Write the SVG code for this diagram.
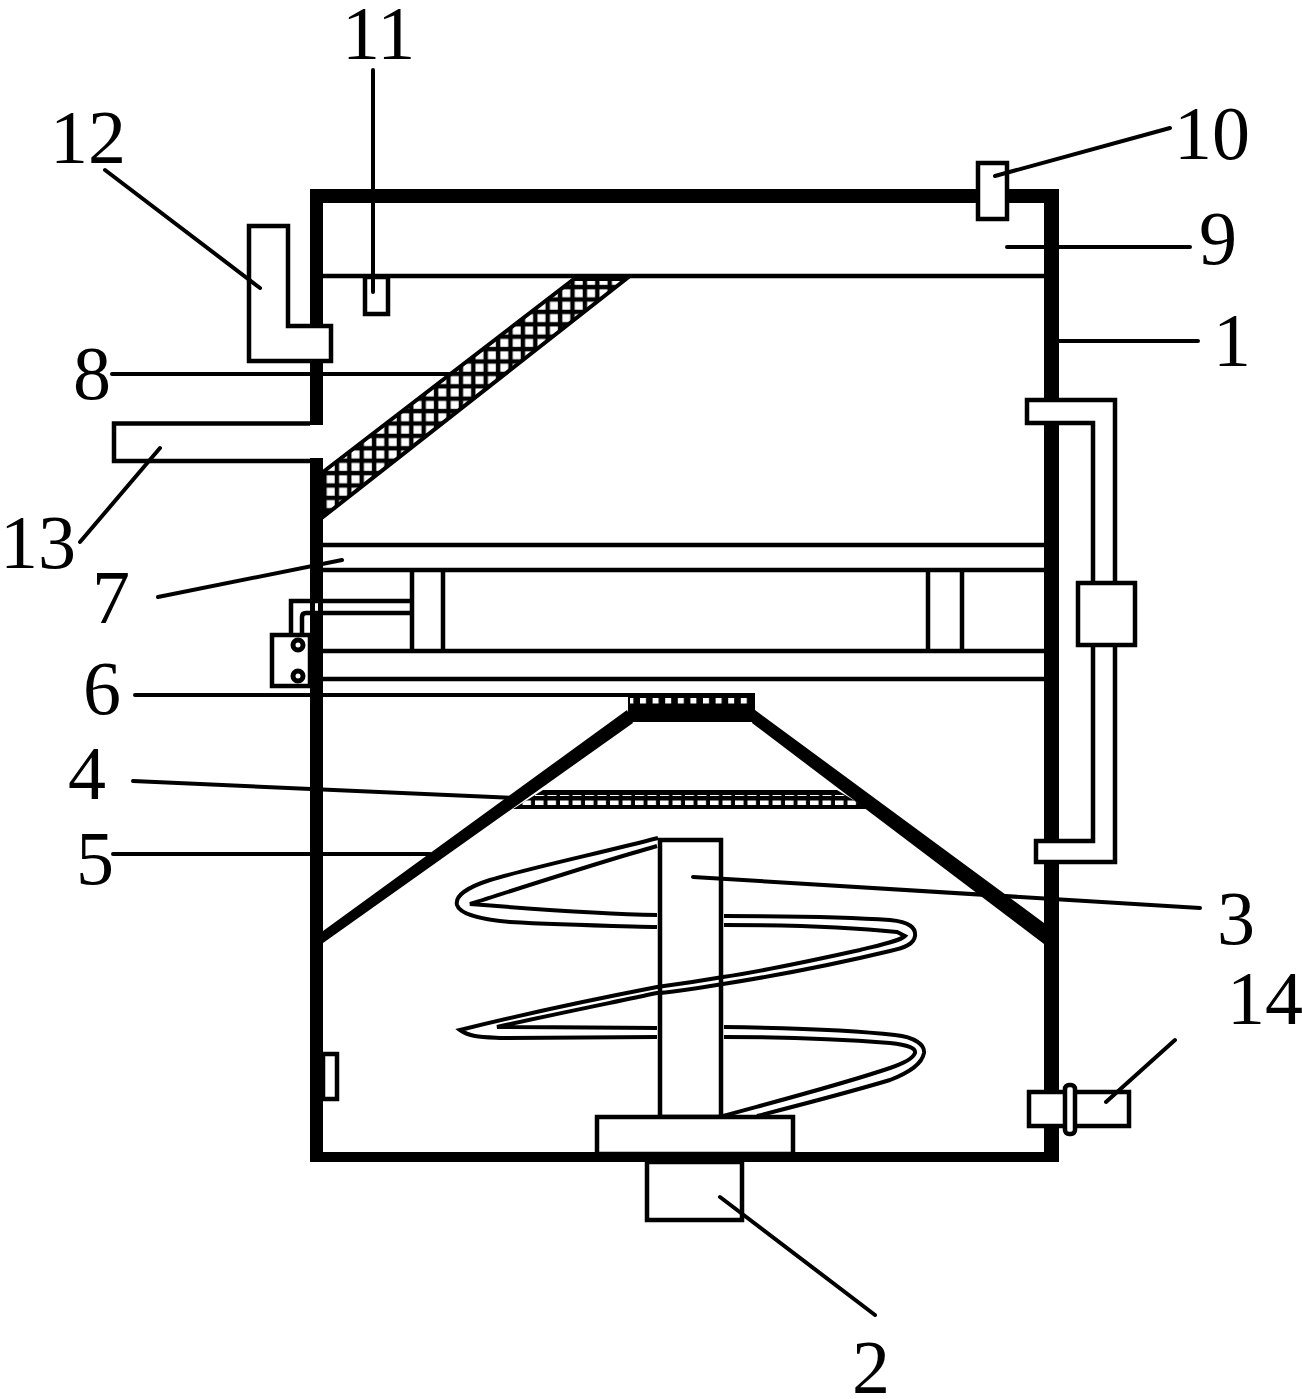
<svg xmlns="http://www.w3.org/2000/svg" width="1302" height="1399" viewBox="0 0 1302 1399">
<style>
.w{fill:#fff;stroke:#000;stroke-width:4.5}
.l{fill:none;stroke:#000;stroke-width:4.5}
.t{fill:none;stroke:#000;stroke-width:4;stroke-linecap:round}
.h{fill:none;stroke:#000;stroke-width:4}
.n{font-family:"Liberation Serif",serif;font-size:76px;fill:#000}
</style>
<defs>
<pattern id="cross" width="12.4" height="12.4" patternUnits="userSpaceOnUse" x="324.4" y="473"><rect width="12.4" height="12.4" fill="#000"/><rect x="2.3" y="2.3" width="8" height="8" fill="#fff"/></pattern>
<pattern id="dots" width="12.6" height="30" patternUnits="userSpaceOnUse" x="640" y="690"><rect x="0" y="8" width="6" height="5.5" fill="#fff"/></pattern>
<pattern id="dots2" width="12.5" height="30" patternUnits="userSpaceOnUse" x="510" y="790"><rect x="0" y="10.5" width="8.5" height="4.5" fill="#fff"/><rect x="0" y="5" width="9" height="1" fill="#fff"/></pattern>
</defs>
<g id="internals">
<path class="l" d="M323 276H1044M323 545H1044M323 570H1044M323 651H1044M323 679H1044"/>
<path class="l" d="M412 570V651M443 570V651M928 570V651M962 570V651"/>
</g>
<g id="node-8"><polygon points="323,472 574,279 626,279 323,517" fill="url(#cross)" stroke="#000" stroke-width="4"/></g>
<g id="node-4"><polygon points="543,790 837,790 868,809 513,809" fill="#000"/><polygon points="543,790 837,790 868,809 513,809" fill="url(#dots2)"/></g>
<g id="node-6"><rect x="628" y="693" width="127" height="29" fill="#000"/><rect x="630" y="697" width="123" height="8" fill="url(#dots)"/></g>
<g id="node-5"><polygon points="323,931 627,710 633,723 323,943" fill="#000"/><polygon points="755,710 1044,923 1044,944 752,723" fill="#000"/></g>
<g id="node-3">
<rect class="w" x="660" y="840" width="61" height="277"/>
<path class="h" d="M658 838C600 853 530 868 490 880C465 888 455 897 457 905C460 915 485 920 510 922C560 925 620 926 657 927"/>
<path class="h" d="M657 846C600 862 530 885 470 904C520 908 600 914 657 915"/>
<path class="h" d="M724 916C780 916 850 917 890 920C910 922 916 928 915 936C914 944 905 948 890 951C840 963 780 975 723 984C680 991 660 993 657 993C610 1003 550 1015 497 1027C550 1027 610 1028 657 1028"/>
<path class="h" d="M724 925C780 925 850 927 897 932L905 936C900 941 880 945 860 950C810 961 770 970 723 977C700 981 680 984 657 987C590 1000 520 1015 460 1030C470 1037 480 1037 500 1038C560 1038 620 1037 657 1037"/>
<path class="h" d="M724 1027C790 1028 860 1031 895 1035C915 1037 925 1045 924 1053C922 1064 910 1072 890 1080C850 1092 800 1105 757 1116"/>
<path class="h" d="M724 1037C790 1037 850 1040 890 1043C908 1045 916 1048 915 1053C913 1058 905 1063 890 1068C840 1085 770 1103 723 1116"/>
</g>
<g id="node-base"><rect class="w" x="597" y="1117" width="196" height="37"/></g>
<g id="node-1">
<path d="M310 425V189H1059V1162H310V458H323V1152H1044V203H323V425Z" fill="#000"/>
<rect x="315" y="603" width="3" height="8" fill="#fff"/>
</g>
<g id="node-2"><rect class="w" x="647" y="1162" width="95" height="58"/></g>
<g id="node-12"><path class="w" d="M249 226H288V326H331V361H249Z"/></g>
<g id="node-13"><path class="l" d="M310 423.5H114V461H310"/></g>
<g id="node-11"><rect class="w" x="365" y="277" width="23" height="37"/></g>
<g id="node-10"><rect class="w" x="978" y="163" width="29" height="56"/></g>
<g id="node-7">
<rect class="w" x="272" y="635" width="38" height="51"/>
<circle cx="298" cy="645" r="5" fill="#fff" stroke="#000" stroke-width="5"/><circle cx="298" cy="676" r="5" fill="#fff" stroke="#000" stroke-width="5"/>
<path class="l" d="M291 635V601H412M302 635V617Q302 613 306 613H412"/>
</g>
<g id="node-pipe"><path class="w" d="M1027 400H1115V862H1036V841H1093V423H1027Z"/><rect class="w" x="1078" y="583" width="57" height="62"/></g>
<g id="node-14"><rect class="w" x="1029" y="1092" width="100" height="34"/><rect class="w" x="1065" y="1085" width="10" height="49" rx="4"/></g>
<g id="node-sensor"><rect class="w" x="323" y="1054" width="14" height="45"/></g>
<g id="connectors">
<path class="t" d="M373 70V292M105 170L260 288M995 176L1170 128M1007 247H1190M1059 341H1198M112 374H450M80 542L160 448M158 597L342 560M135 695H630M133 781L515 798M113 854H430M693 877L1200 908M1106 1102L1175 1040M720 1197L875 1315"/>
</g>
<g id="labels">
<text class="n" x="342" y="59">11</text><text class="n" x="50" y="163">12</text><text class="n" x="1174" y="159">10</text><text class="n" x="1199" y="264">9</text><text class="n" x="1213" y="366">1</text><text class="n" x="73" y="399">8</text><text class="n" x="0" y="568">13</text><text class="n" x="92" y="623">7</text><text class="n" x="83" y="714">6</text><text class="n" x="68" y="799">4</text><text class="n" x="76" y="884">5</text><text class="n" x="1217" y="944">3</text><text class="n" x="1227" y="1024">14</text><text class="n" x="852" y="1393">2</text>
</g>
</svg>
